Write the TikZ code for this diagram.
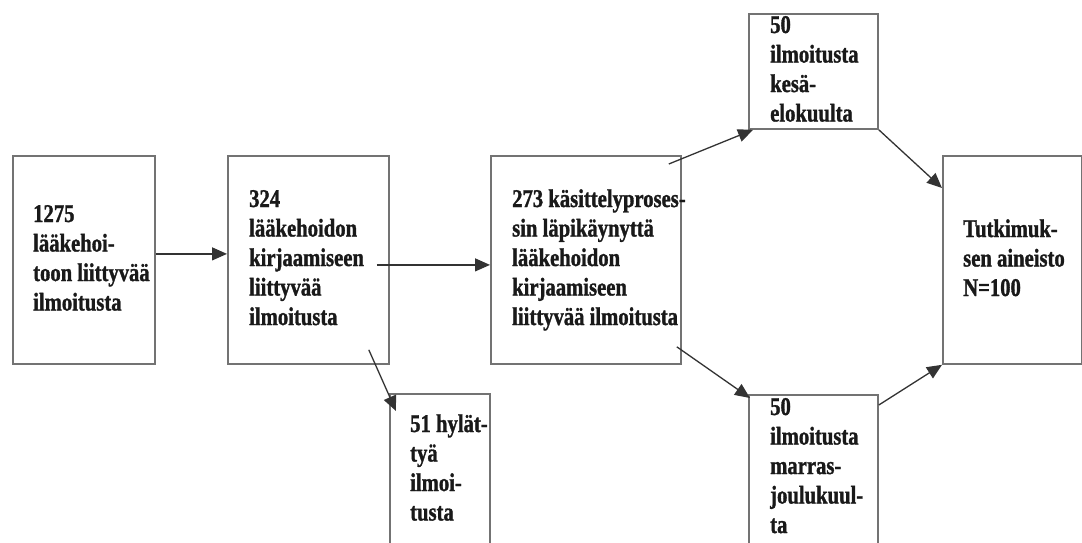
\documentclass[tikz,border=0pt]{standalone}
\usepackage{fontspec}
\newfontfamily\boxfont{Liberation Serif}[FakeStretch=0.81,FakeBold=1.2]
\usetikzlibrary{arrows.meta}
\newcommand\txtlines[1]{\vtop{\baselineskip=29.5pt\lineskiplimit=-20pt\halign{##\hfil\cr#1\crcr}}}
\tikzset{
  box/.style={draw=black!55, line width=1.8pt, fill=none, inner sep=0pt, anchor=north west},
  txt/.style={inner sep=0pt, anchor=base west, font=\boxfont\bfseries\fontsize{25.5}{29.5}\selectfont, text=black!90},
  arr/.style={draw=black!80, line width=1.3pt, -{Triangle[length=15pt,width=13pt]}},
}
\begin{document}
\begin{tikzpicture}[x=1pt,y=-1pt]
\clip (0,0) rectangle (1082,542);
\fill[white] (0,0) rectangle (1082,542);
% boxes
\node[box, minimum width=142pt, minimum height=208pt] (A) at (12,155) {};
\node[box, minimum width=161pt, minimum height=208pt] (B) at (227,155) {};
\node[box, minimum width=190pt, minimum height=208pt] (C) at (490,155) {};
\node[box, minimum width=100pt, minimum height=170pt] (D) at (389,393) {};
\node[box, minimum width=129pt, minimum height=115pt] (E) at (748,13) {};
\node[box, minimum width=129pt, minimum height=170pt] (F) at (748,394) {};
\node[box, minimum width=139pt, minimum height=208pt] (G) at (942,155) {};
% texts
\node[txt] (At) at (33,222) {\txtlines{1275\cr l\"a\"akehoi-\cr toon liittyv\"a\"a\cr ilmoitusta}};
\node[txt] (Bt) at (249,207) {\txtlines{324\cr l\"a\"akehoidon\cr kirjaamiseen\cr liittyv\"a\"a\cr ilmoitusta}};
\node[txt] (Ct) at (512,207) {\txtlines{273 k\"asittelyproses-\cr sin l\"apik\"aynytt\"a\cr l\"a\"akehoidon\cr kirjaamiseen\cr liittyv\"a\"a ilmoitusta}};
\node[txt] (Dt) at (410,432) {\txtlines{51 hyl\"at-\cr ty\"a\cr ilmoi-\cr tusta}};
\node[txt] (Et) at (770,33) {\txtlines{50\cr ilmoitusta\cr kes\"a-\cr elokuulta}};
\node[txt] (Ft) at (770,415) {\txtlines{50\cr ilmoitusta\cr marras-\cr joulukuul-\cr ta}};
\node[txt] (Gt) at (963,237) {\txtlines{Tutkimuk-\cr sen aineisto\cr N=100}};
% connectors
\draw[arr] ([yshift=6pt]A.east) -- ([yshift=6pt]B.west);
\draw[arr] ([xshift=-13pt,yshift=-5pt]B.east) -- ([yshift=-5pt]C.west);
\draw[arr] ([xshift=-21pt,yshift=15pt]B.south east) -- ([xshift=7pt,yshift=-18pt]D.north west);
\draw[arr] ([xshift=-13pt,yshift=-9pt]C.north east) -- ([xshift=5pt]E.south west);
\draw[arr] ([xshift=-5pt,yshift=18pt]C.south east) -- ([xshift=2pt,yshift=-4pt]F.north west);
\draw[arr] (E.south east) -- ([yshift=-33pt]G.north west);
\draw[arr] ([yshift=-11pt]F.north east) -- (G.south west);
\end{tikzpicture}
\end{document}
